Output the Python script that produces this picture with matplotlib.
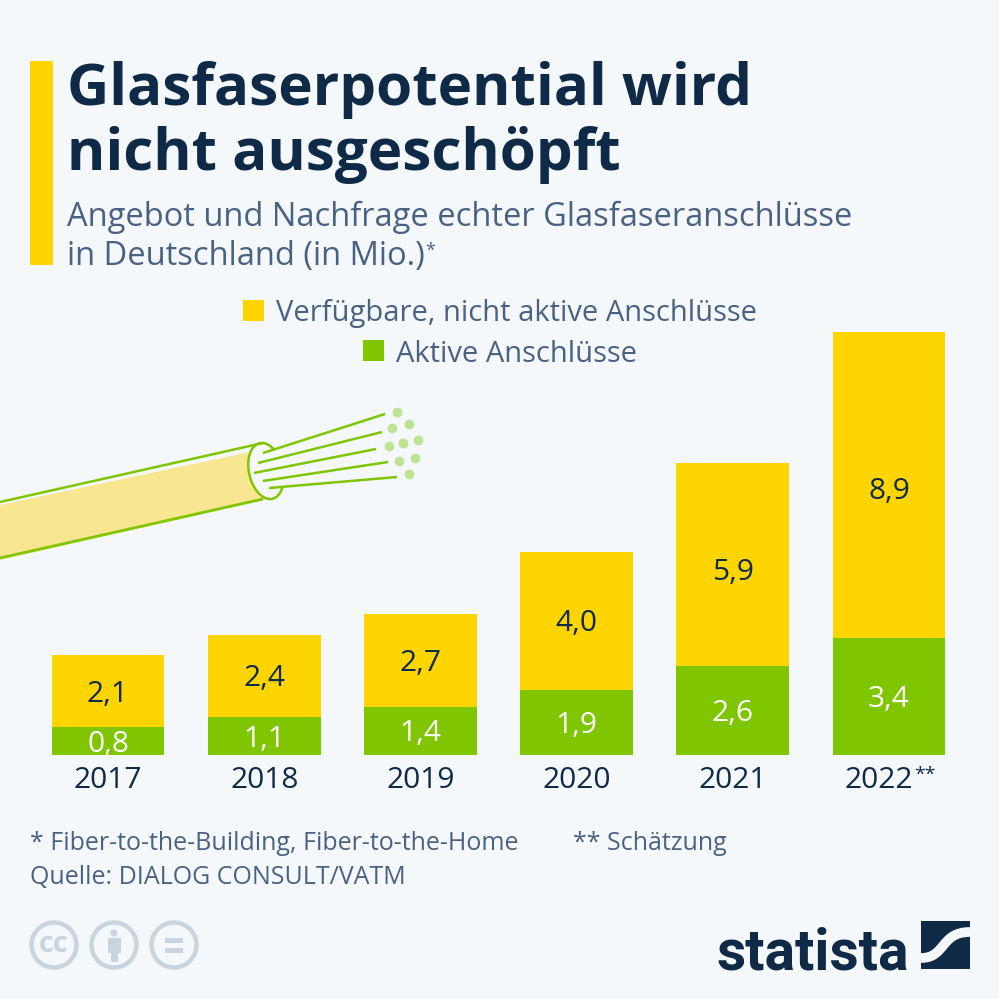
import matplotlib
matplotlib.use('Agg')
import matplotlib.pyplot as plt
from matplotlib.patches import Rectangle, Ellipse, Circle, Polygon, Arc, PathPatch
from matplotlib.path import Path
from matplotlib.transforms import ScaledTranslation

years = ['2017', '2018', '2019', '2020', '2021', '2022']
active = [0.8, 1.1, 1.4, 1.9, 2.6, 3.4]
available = [2.1, 2.4, 2.7, 4.0, 5.9, 8.9]
active_labels = ['0,8', '1,1', '1,4', '1,9', '2,6', '3,4']
available_labels = ['2,1', '2,4', '2,7', '4,0', '5,9', '8,9']
# labels in the original are not quite centred, shift in px
available_shift = [3, 3, 3, 3, 8, 7]

BG = '#f4f8fb'
YELLOW = '#ffd500'
GREEN = '#7fc600'
NAVY = '#0f2a47'
SLATE = '#4a6282'
GREY = '#c9d5de'

plt.rcParams['font.family'] = ['Open Sans', 'DejaVu Sans']

fig = plt.figure(figsize=(9.99, 9.99), dpi=100, facecolor=BG)

# overlay in pixel coordinates for the furniture
bg = fig.add_axes([0, 0, 1, 1])
bg.set_xlim(0, 999)
bg.set_ylim(999, 0)
bg.axis('off')

bg.add_patch(Rectangle((30, 61), 23, 204, color=YELLOW, lw=0))
bg.text(67, 90, 'Glasfaserpotential wird', fontsize=42, fontweight='bold', color=NAVY, va='center')
bg.text(67, 155, 'nicht ausgeschöpft', fontsize=42, fontweight='bold', color=NAVY, va='center')
bg.text(67, 217, 'Angebot und Nachfrage echter Glasfaseranschlüsse', fontsize=23.5, color=SLATE, va='center')
bg.text(67, 257, 'in Deutschland (in Mio.)', fontsize=23.5, color=SLATE, va='center')
bg.text(425, 251, '*', fontsize=13, color=SLATE, va='center')

# legend
bg.add_patch(Rectangle((243, 300), 21, 21, color=YELLOW, lw=0))
bg.text(276, 313, 'Verfügbare, nicht aktive Anschlüsse', fontsize=21, color=SLATE, va='center')
bg.add_patch(Rectangle((363, 340), 21, 21, color=GREEN, lw=0))
bg.text(396, 354, 'Aktive Anschlüsse', fontsize=21, color=SLATE, va='center')

# cable
bg.add_patch(Polygon([(0, 505), (250, 452), (264, 500), (0, 560)], color='#f9e690', lw=0))
bg.plot([0, 263], [502, 443], color=GREEN, lw=1.8, solid_capstyle='butt')
bg.plot([0, 263], [558, 499], color=GREEN, lw=2, solid_capstyle='butt')
bg.add_patch(Ellipse((266, 471), 34, 57, angle=-13, facecolor=BG, lw=0))
bg.add_patch(Arc((266, 471), 34, 57, angle=-13, theta1=55, theta2=305, color=GREEN, lw=1.8))
fibre_x = [(263, 385), (258, 382), (254, 376), (263, 388), (269, 397)]
fibre_y = [(453, 414), (463, 432), (473, 449), (481, 462), (488, 477)]
for fx, fy in zip(fibre_x, fibre_y):
    bg.plot(fx, fy, color=GREEN, lw=1.8, solid_capstyle='butt')
dot_x = [397, 409, 392, 418, 403, 389, 415, 399, 409]
dot_y = [412, 424, 428, 440, 443, 446, 458, 461, 474]
bg.scatter(dot_x, dot_y, s=50, color='#bfe394', lw=0)

# stacked bars, 34.4 px per million
ax = fig.add_axes([0, 1 - 755 / 999, 1, 455 / 999])
ax.patch.set_alpha(0)
ax.set_xlim(-108 / 156.2, (999 - 108) / 156.2)
ax.set_ylim(0, 455 / 34.4)
x = range(len(years))
ax.bar(x, active, width=0.723, color=GREEN)
ax.bar(x, available, width=0.723, bottom=active, color=YELLOW)
for i in x:
    ax.annotate(active_labels[i], (i, active[i] / 2), xytext=(0, -2.2), textcoords='offset points',
                ha='center', va='center', fontsize=21.5, color='white')
    ax.annotate(available_labels[i], (i, active[i] + available[i] / 2), xytext=(0, -available_shift[i] * 0.72),
                textcoords='offset points', ha='center', va='center', fontsize=21.5, color=NAVY)
ax.set_xticks(list(x))
ax.set_xticklabels(years, fontsize=21.5, color=NAVY)
ax.tick_params(axis='x', length=0, pad=8)
ax.set_yticks([])
for s in ax.spines.values():
    s.set_visible(False)

# last year carries a footnote mark, so its label sits a bit to the left
last = ax.get_xticklabels()[-1]
last.set_transform(last.get_transform() + ScaledTranslation(-10 / 72 * 0.72, 0, fig.dpi_scale_trans))
bg.text(914, 775, '**', fontsize=14, color=NAVY, va='center')

# footer
bg.text(30, 843, '* Fiber-to-the-Building, Fiber-to-the-Home', fontsize=18, color=SLATE, va='center')
bg.text(573, 843, '** Schätzung', fontsize=18, color=SLATE, va='center')
bg.text(30, 877, 'Quelle: DIALOG CONSULT/VATM', fontsize=18, color=SLATE, va='center')

# licence icons
for cx in [54, 114, 174]:
    bg.add_patch(Circle((cx, 945), 22.5, facecolor='none', edgecolor=GREY, lw=3.2))
bg.text(54, 945, 'cc', fontsize=21, fontweight='bold', color=GREY, ha='center', va='center')
bg.add_patch(Circle((114, 933), 3.5, color=GREY, lw=0))
bg.add_patch(Rectangle((107.5, 938), 13, 15, color=GREY, lw=0))
bg.add_patch(Rectangle((110.5, 950), 7, 12, color=GREY, lw=0))
bg.add_patch(Rectangle((165, 938), 18, 4.5, color=GREY, lw=0))
bg.add_patch(Rectangle((165, 948), 18, 4.5, color=GREY, lw=0))

# statista logo
bg.text(813, 969, 'statista', fontsize=41, fontweight='bold', color=NAVY, ha='center', va='baseline',
        family=['Roboto', 'DejaVu Sans'])
bg.add_patch(Rectangle((921, 921), 49, 48, color=NAVY, lw=0))
swoosh = Path([(921, 958), (946, 958), (940, 932), (970, 932)], [Path.MOVETO, Path.CURVE4, Path.CURVE4, Path.CURVE4])
bg.add_patch(PathPatch(swoosh, facecolor='none', edgecolor=BG, lw=7, capstyle='butt'))

fig.savefig('out.png', dpi=100, facecolor=BG)
